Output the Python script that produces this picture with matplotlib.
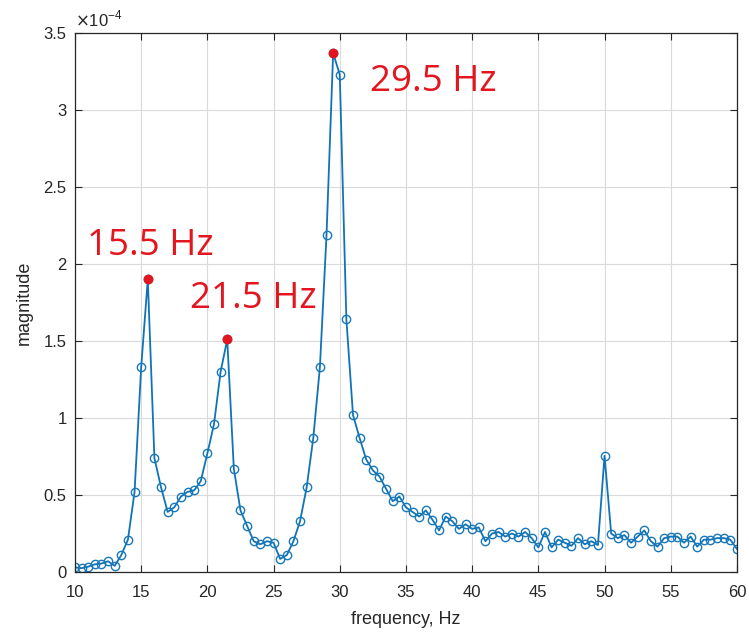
import numpy as np
import matplotlib
matplotlib.use("Agg")
import matplotlib.pyplot as plt

plt.rcParams["font.family"] = ["Liberation Sans", "DejaVu Sans"]

# frequency axis (Hz), 0.5 Hz resolution
freq = np.arange(10, 60.01, 0.5)
# magnitude, in units of 1e-4
magnitude = [
    0.03, 0.025, 0.035, 0.05, 0.055, 0.07, 0.04, 0.11, 0.21, 0.52,
    1.33, 1.90, 0.74, 0.55, 0.39, 0.42, 0.49, 0.52, 0.53, 0.59,
    0.77, 0.96, 1.30, 1.51, 0.67, 0.40, 0.30, 0.20, 0.18, 0.20,
    0.19, 0.085, 0.11, 0.20, 0.33, 0.55, 0.87, 1.33, 2.19, 3.37,
    3.23, 1.64, 1.02, 0.87, 0.73, 0.66, 0.62, 0.54, 0.46, 0.49,
    0.42, 0.39, 0.36, 0.40, 0.34, 0.27, 0.36, 0.33, 0.28, 0.31,
    0.28, 0.29, 0.20, 0.25, 0.26, 0.23, 0.25, 0.23, 0.26, 0.22,
    0.16, 0.26, 0.16, 0.21, 0.19, 0.17, 0.22, 0.18, 0.20, 0.175,
    0.755, 0.25, 0.22, 0.24, 0.19, 0.23, 0.27, 0.20, 0.165, 0.22,
    0.23, 0.23, 0.19, 0.23, 0.165, 0.21, 0.21, 0.22, 0.22, 0.21,
    0.15,
]
peak_freqs = [15.5, 21.5, 29.5]
peak_labels = ["15.5 Hz", "21.5 Hz", "29.5 Hz"]
label_pos = [(10.9, 2.12), (18.7, 1.77), (32.3, 3.18)]

mag = np.array(magnitude)

fig = plt.figure(figsize=(7.49, 6.36), dpi=100)
ax = fig.add_axes([0.1001, 0.1006, 0.8838, 0.8475])

ax.plot(freq, mag, color="#0F74B6", lw=1.3, marker="o", markersize=6,
        markerfacecolor="none", markeredgecolor="#1A78B8", markeredgewidth=1.0)

peak_vals = [mag[np.argmin(np.abs(freq - f))] for f in peak_freqs]
ax.plot(peak_freqs, peak_vals, "o", color="#E3161F", markersize=6, zorder=5)

for lab, (px, py) in zip(peak_labels, label_pos):
    ax.text(px, py, lab, color="#E3161F", fontsize=26.5, family="Open Sans",
            va="center", ha="left")

ax.set_xlim(10, 60)
ax.set_ylim(0, 3.5)
ax.set_xticks(np.arange(10, 61, 5))
ax.set_yticks(np.arange(0, 3.51, 0.5))
ax.set_yticklabels(["0", "0.5", "1", "1.5", "2", "2.5", "3", "3.5"])
ax.grid(True, color="#DADADA", lw=0.8)
ax.set_axisbelow(True)
ax.tick_params(direction="in", top=True, right=True, labelsize=12,
               colors="#262626", length=5)
ax.tick_params(axis="x", pad=9)
ax.tick_params(axis="y", pad=6)
for sp in ax.spines.values():
    sp.set_color("#262626")
    sp.set_linewidth(0.9)
ax.set_xlabel("frequency, Hz", fontsize=13, color="#262626", labelpad=8)
ax.set_ylabel("magnitude", fontsize=13, color="#262626", labelpad=8)
ax.text(0.0, 1.006, r"$\times$10$^{\mathregular{-4}}$",
        transform=ax.transAxes, fontsize=12, color="#262626", va="bottom", ha="left")

fig.savefig("out.png", dpi=100)
